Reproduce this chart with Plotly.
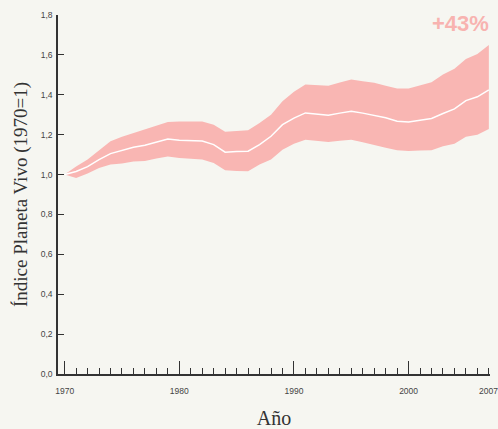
"""Living Planet Index chart (1970=1) with confidence band."""
import plotly.graph_objects as go

years = list(range(1970, 2008))

lpi_mean = [
    1.00, 1.015, 1.04, 1.075, 1.105, 1.12, 1.137, 1.147, 1.162, 1.178,
    1.172, 1.170, 1.168, 1.150, 1.112, 1.115, 1.117, 1.150, 1.192, 1.250,
    1.283, 1.309, 1.303, 1.297, 1.308, 1.317, 1.308, 1.298, 1.285, 1.267,
    1.264, 1.272, 1.281, 1.306, 1.329, 1.371, 1.390, 1.425,
]
lpi_upper = [
    1.00, 1.041, 1.075, 1.12, 1.167, 1.19, 1.209, 1.226, 1.245, 1.264,
    1.266, 1.267, 1.266, 1.250, 1.214, 1.218, 1.222, 1.259, 1.300, 1.368,
    1.415, 1.452, 1.448, 1.445, 1.462, 1.477, 1.468, 1.460, 1.445, 1.431,
    1.431, 1.447, 1.463, 1.502, 1.530, 1.580, 1.605, 1.649,
]
lpi_lower = [
    1.00, 0.983, 1.005, 1.033, 1.05, 1.055, 1.065, 1.068, 1.08, 1.091,
    1.083, 1.079, 1.075, 1.058, 1.021, 1.018, 1.016, 1.05, 1.075, 1.125,
    1.155, 1.175, 1.168, 1.163, 1.170, 1.175, 1.162, 1.150, 1.135, 1.122,
    1.118, 1.120, 1.122, 1.142, 1.155, 1.189, 1.200, 1.229,
]

x_major = [1970, 1980, 1990, 2000]
x_last = 2007
y_ticks = [0.0, 0.2, 0.4, 0.6, 0.8, 1.0, 1.2, 1.4, 1.6, 1.8]
change_label = "+43%"

BG = "#f6f6f1"
BAND = "#f9b6b3"
AXIS = "#333333"
TICK_FONT = dict(family="Liberation Sans, Arial, sans-serif", size=8.5, color="#444444")
SERIF = dict(family="Liberation Serif, Times New Roman, serif", size=19, color="#333333")

fig = go.Figure()
fig.add_trace(go.Scatter(
    x=years, y=lpi_upper, mode="lines", line=dict(width=0, color=BAND),
    hoverinfo="skip", showlegend=False,
))
fig.add_trace(go.Scatter(
    x=years, y=lpi_lower, mode="lines", line=dict(width=0, color=BAND),
    fill="tonexty", fillcolor=BAND, hoverinfo="skip", showlegend=False,
))
fig.add_trace(go.Scatter(
    x=years, y=lpi_mean, mode="lines", line=dict(width=1.5, color="white"),
    showlegend=False,
))

fig.update_layout(
    width=498, height=429,
    margin=dict(l=58, r=8, t=15, b=55),
    paper_bgcolor=BG, plot_bgcolor=BG,
    separators=",.",
    annotations=[
        dict(
            x=x_last, y=0, xref="x", yref="y", text=str(x_last),
            showarrow=False, yanchor="top", yshift=-10, font=TICK_FONT,
        ),
        dict(
            x=1, y=1.0, xref="paper", yref="paper", text=change_label,
            showarrow=False, xanchor="right", yanchor="top", xshift=1, yshift=6,
            font=dict(family="Liberation Sans, Arial, sans-serif",
                      size=22, color="#f8b3b0", weight="bold"),
        ),
    ],
)
fig.update_xaxes(
    range=[1969.42, 2007.1], automargin=False,
    tickvals=x_major, ticks="inside", ticklen=13, tickwidth=1, tickcolor=AXIS,
    minor=dict(dtick=1, tick0=1970, ticks="inside", ticklen=6, tickwidth=1, tickcolor=AXIS),
    showline=True, linecolor=AXIS, linewidth=1.5,
    showgrid=False, zeroline=False,
    tickfont=TICK_FONT, ticklabelstandoff=8,
    title=dict(text="Año", font=dict(SERIF, size=20), standoff=18),
)
fig.update_yaxes(
    range=[0, 1.8], automargin=False,
    tickvals=y_ticks, tickformat=".1f",
    ticks="inside", ticklen=6, tickwidth=1, tickcolor=AXIS,
    showline=True, linecolor=AXIS, linewidth=1.5,
    showgrid=False, zeroline=False,
    tickfont=TICK_FONT, ticklabelstandoff=2,
    title=dict(text="Índice Planeta Vivo (1970=1)", font=SERIF, standoff=8),
)

# the page's default body margin would push the figure off the window
fig.write_html(
    "out.html",
    config={"displayModeBar": False},
    post_script="document.body.style.margin='0';",
)
